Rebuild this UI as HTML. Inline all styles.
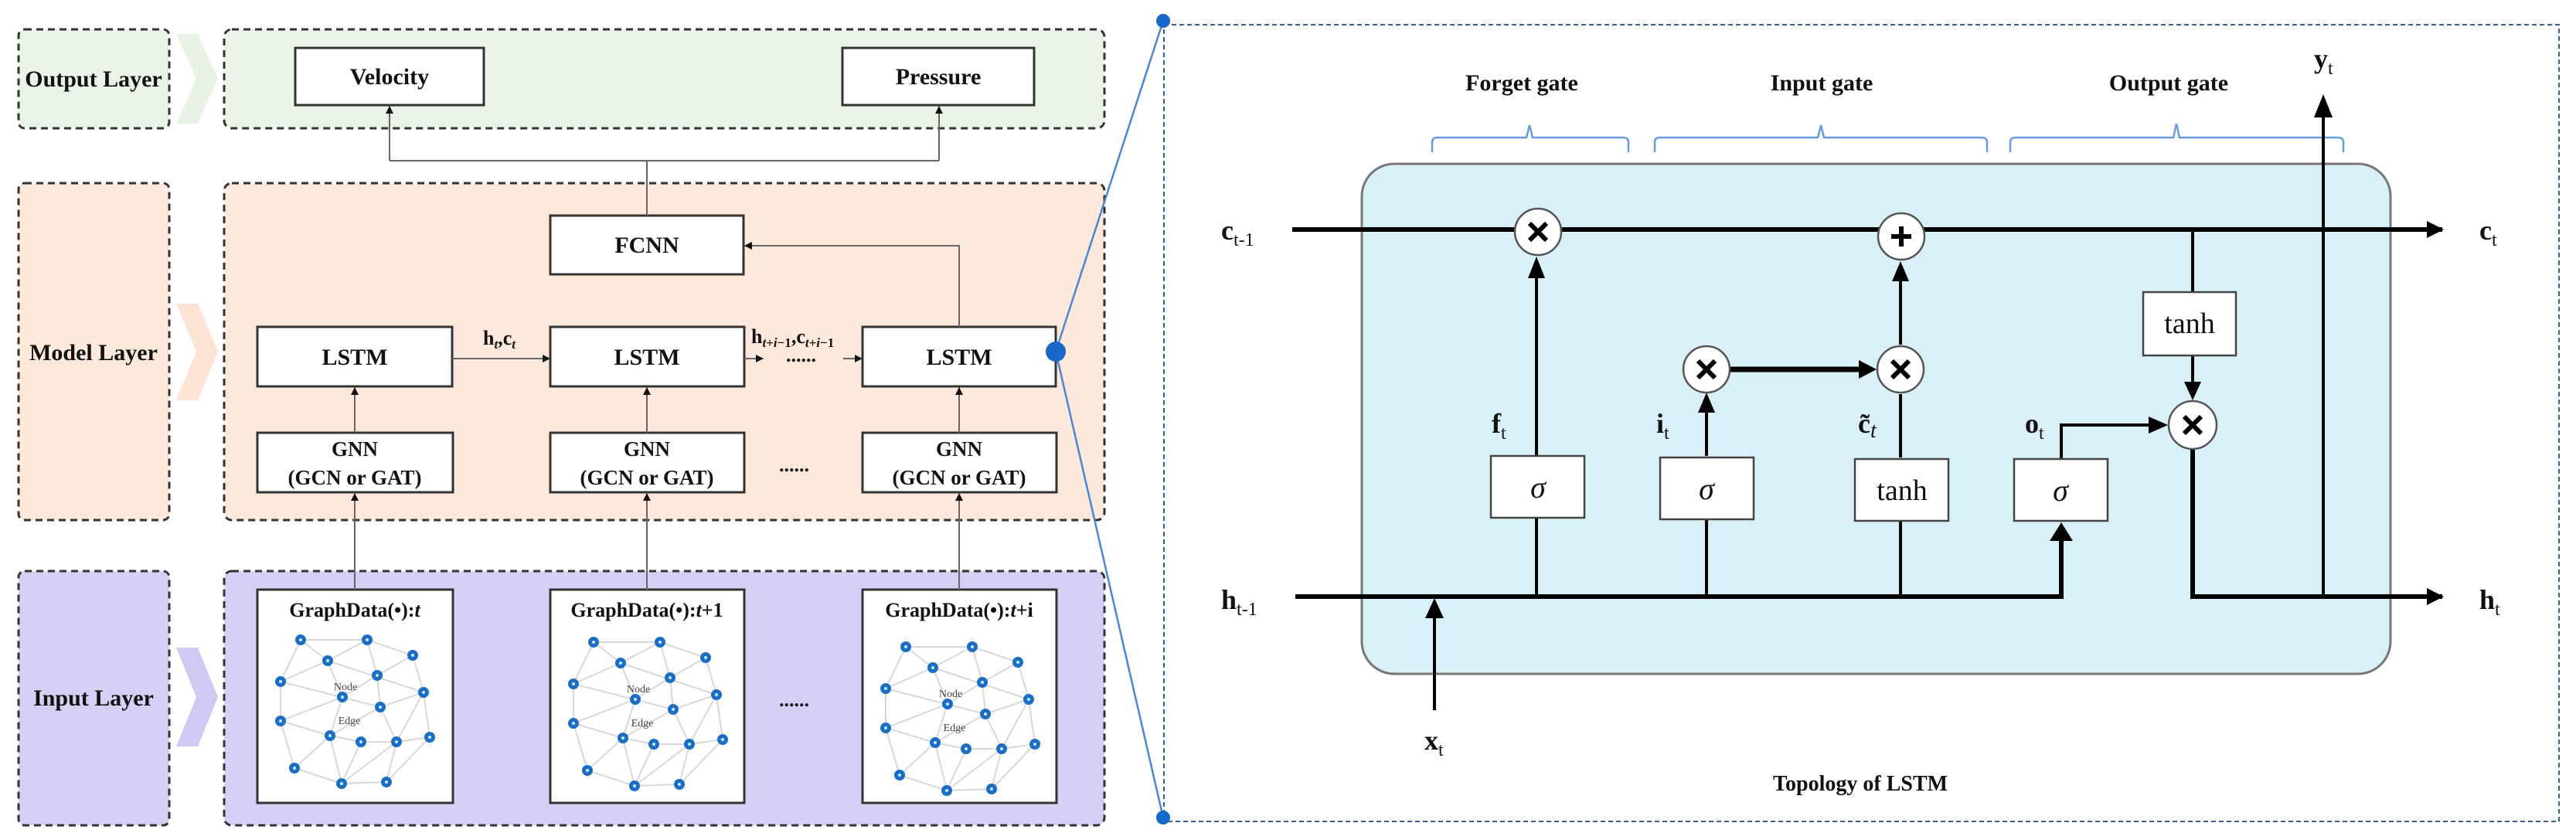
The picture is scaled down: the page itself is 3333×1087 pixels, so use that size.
<!DOCTYPE html>
<html><head><meta charset="utf-8"><style>
html,body{margin:0;padding:0;background:#fff;}
svg{display:block;}
text{font-family:"Liberation Serif",serif;}
</style></head><body>
<svg width="3333" height="1087" viewBox="0 0 3333 1087" xmlns="http://www.w3.org/2000/svg">
<defs>
<marker id="ag" markerWidth="10" markerHeight="10" refX="9" refY="5" orient="auto" markerUnits="userSpaceOnUse"><path d="M0,0 L10,5 L0,10 z" fill="#111"/></marker>
<marker id="ab" markerWidth="22" markerHeight="22" refX="20" refY="11" orient="auto" markerUnits="userSpaceOnUse"><path d="M0,0 L22,11 L0,22 z" fill="#000"/></marker>
<g id="graph">
<g stroke="#d8d8d8" stroke-width="2" fill="none">
<path d="M56,65L142,65 M56,65L91,92 M56,65L30,119 M142,65L91,92 M142,65L155,111 M142,65L201,85 M201,85L155,111 M201,85L215,133 M91,92L30,119 M91,92L215,133 M91,92L110,139 M30,119L159,152 M155,111L159,152 M155,111L110,139 M215,133L159,152 M215,133L180,197 M215,133L223,191 M110,139L30,170 M110,139L94,189 M159,152L94,189 M159,152L180,197 M30,170L94,189 M30,170L48,231 M94,189L134,197 M94,189L48,231 M94,189L109,251 M134,197L180,197 M134,197L109,251 M180,197L223,191 M180,197L109,251 M180,197L167,249 M223,191L167,249 M48,231L109,251 M109,251L167,249 M30,119L30,170"/>
</g>
<g>
<circle cx="56" cy="65" r="7" fill="#1a6fc4"/><circle cx="142" cy="65" r="7" fill="#1a6fc4"/><circle cx="201" cy="85" r="7" fill="#1a6fc4"/><circle cx="91" cy="92" r="7" fill="#1a6fc4"/><circle cx="155" cy="111" r="7" fill="#1a6fc4"/><circle cx="30" cy="119" r="7" fill="#1a6fc4"/><circle cx="215" cy="133" r="7" fill="#1a6fc4"/><circle cx="110" cy="139" r="7" fill="#1a6fc4"/><circle cx="159" cy="152" r="7" fill="#1a6fc4"/><circle cx="30" cy="170" r="7" fill="#1a6fc4"/><circle cx="94" cy="189" r="7" fill="#1a6fc4"/><circle cx="134" cy="197" r="7" fill="#1a6fc4"/><circle cx="180" cy="197" r="7" fill="#1a6fc4"/><circle cx="223" cy="191" r="7" fill="#1a6fc4"/><circle cx="48" cy="231" r="7" fill="#1a6fc4"/><circle cx="109" cy="251" r="7" fill="#1a6fc4"/><circle cx="167" cy="249" r="7" fill="#1a6fc4"/>
</g>
<g fill="#cfe8ff">
<circle cx="56" cy="65" r="2"/><circle cx="142" cy="65" r="2"/><circle cx="201" cy="85" r="2"/><circle cx="91" cy="92" r="2"/><circle cx="155" cy="111" r="2"/><circle cx="30" cy="119" r="2"/><circle cx="215" cy="133" r="2"/><circle cx="110" cy="139" r="2"/><circle cx="159" cy="152" r="2"/><circle cx="30" cy="170" r="2"/><circle cx="94" cy="189" r="2"/><circle cx="134" cy="197" r="2"/><circle cx="180" cy="197" r="2"/><circle cx="223" cy="191" r="2"/><circle cx="48" cy="231" r="2"/><circle cx="109" cy="251" r="2"/><circle cx="167" cy="249" r="2"/>
</g>
</g>
</defs>

<!-- ===== LEFT: layer panels ===== -->
<g stroke="#333" stroke-width="3" stroke-dasharray="9,6">
<rect x="24" y="38" width="195" height="128" rx="8" fill="#eaf4e6"/>
<rect x="290" y="38" width="1139" height="128" rx="10" fill="#eaf4e6"/>
<rect x="24" y="237" width="195" height="436" rx="8" fill="#fde9dc"/>
<rect x="290" y="237" width="1139" height="436" rx="10" fill="#fde9dc"/>
<rect x="24" y="739" width="195" height="329" rx="8" fill="#d4d0f6"/>
<rect x="290" y="739" width="1139" height="329" rx="10" fill="#d4d0f6"/>
</g>
<!-- chevrons -->
<path d="M228,44 L256,44 L282,102 L256,160 L228,160 L254,102 z" fill="#e8f3e4"/>
<path d="M228,393 L256,393 L282,455 L256,518 L228,518 L254,455 z" fill="#fce3d3"/>
<path d="M228,838 L256,838 L282,902 L256,966 L228,966 L254,902 z" fill="#cfcaf4"/>

<g font-weight="bold" font-size="30" text-anchor="middle" fill="#111">
<text x="121" y="112">Output Layer</text>
<text x="121" y="466">Model Layer</text>
<text x="121" y="913">Input Layer</text>
</g>

<!-- boxes -->
<g fill="#fff" stroke="#333" stroke-width="3">
<rect x="382" y="62" width="244" height="74"/>
<rect x="1090" y="62" width="248" height="74"/>
<rect x="712" y="279" width="250" height="76"/>
<rect x="333" y="423" width="252" height="77"/>
<rect x="712" y="423" width="251" height="77"/>
<rect x="1116" y="423" width="250" height="77"/>
<rect x="333" y="560" width="253" height="77"/>
<rect x="712" y="560" width="251" height="77"/>
<rect x="1116" y="560" width="251" height="77"/>
<rect x="333" y="763" width="253" height="276"/>
<rect x="712" y="763" width="251" height="276"/>
<rect x="1116" y="763" width="251" height="276"/>
</g>
<g font-weight="bold" font-size="30" text-anchor="middle" fill="#111">
<text x="504" y="109">Velocity</text>
<text x="1214" y="109">Pressure</text>
<text x="837" y="327">FCNN</text>
<text x="459" y="472">LSTM</text>
<text x="837" y="472">LSTM</text>
<text x="1241" y="472">LSTM</text>
<g font-size="27">
<text x="459" y="590">GNN</text><text x="459" y="627">(GCN or GAT)</text>
<text x="837" y="590">GNN</text><text x="837" y="627">(GCN or GAT)</text>
<text x="1241" y="590">GNN</text><text x="1241" y="627">(GCN or GAT)</text>
</g>
<g font-size="26">
<text x="459" y="798">GraphData(•):<tspan font-style="italic">t</tspan></text>
<text x="837" y="798">GraphData(•):<tspan font-style="italic">t</tspan>+1</text>
<text x="1241" y="798">GraphData(•):<tspan font-style="italic">t</tspan>+i</text>
</g>
</g>
<use href="#graph" x="333" y="763"/>
<use href="#graph" x="712" y="766"/>
<use href="#graph" x="1116" y="772"/>
<g font-size="14" fill="#444" text-anchor="middle">
<text x="447" y="893">Node</text><text x="452" y="937">Edge</text>
<text x="826" y="896">Node</text><text x="831" y="940">Edge</text>
<text x="1230" y="902">Node</text><text x="1235" y="946">Edge</text>
</g>

<!-- left connectors -->
<g stroke="#666" stroke-width="2" fill="none">
<path d="M504,208 L504,138" marker-end="url(#ag)"/>
<path d="M1215,208 L1215,138" marker-end="url(#ag)"/>
<path d="M504,208 L1215,208"/>
<path d="M837,208 L837,279"/>
<path d="M1241,423 L1241,318 L964,318" marker-end="url(#ag)"/>
<path d="M585,464 L711,464" marker-end="url(#ag)"/>
<path d="M963,464 L987,464" marker-end="url(#ag)"/>
<path d="M1091,464 L1115,464" marker-end="url(#ag)"/>
<path d="M459,560 L459,502" marker-end="url(#ag)"/>
<path d="M837,560 L837,502" marker-end="url(#ag)"/>
<path d="M1241,560 L1241,502" marker-end="url(#ag)"/>
<path d="M459,763 L459,639" marker-end="url(#ag)"/>
<path d="M837,763 L837,639" marker-end="url(#ag)"/>
<path d="M1241,763 L1241,639" marker-end="url(#ag)"/>
</g>
<g font-weight="bold" font-size="26" fill="#111">
<text x="625" y="446">h<tspan font-size="17" font-style="italic" dy="5">t</tspan><tspan dy="-5">,c</tspan><tspan font-size="17" font-style="italic" dy="5">t</tspan></text>
<text x="972" y="444">h<tspan font-size="17" dy="5"><tspan font-style="italic">t</tspan>+<tspan font-style="italic">i</tspan>−1</tspan><tspan dy="-5">,c</tspan><tspan font-size="17" dy="5"><tspan font-style="italic">t</tspan>+<tspan font-style="italic">i</tspan>−1</tspan></text>
<text x="1017" y="468">......</text>
<text x="1008" y="610">......</text>
<text x="1008" y="914">......</text>
</g>

<!-- blue zoom lines -->
<g stroke="#4a86d8" stroke-width="2.5">
<line x1="1366" y1="455" x2="1505" y2="27"/>
<line x1="1366" y1="455" x2="1505" y2="1058"/>
</g>
<circle cx="1366" cy="455" r="13" fill="#1768c8"/>
<rect x="1506" y="32" width="1805" height="1031" fill="none" stroke="#3a5f8a" stroke-width="2" stroke-dasharray="6,4"/>
<circle cx="1505" cy="27" r="9" fill="#1768c8"/>
<circle cx="1505" cy="1058" r="9" fill="#1768c8"/>

<!-- ===== RIGHT: LSTM cell ===== -->
<rect x="1762" y="212" width="1331" height="660" rx="42" fill="#daf0f8" stroke="#777" stroke-width="3"/>
<g font-weight="bold" font-size="30" text-anchor="middle" fill="#111">
<text x="1969" y="117">Forget gate</text>
<text x="2357" y="117">Input  gate</text>
<text x="2806" y="117">Output gate</text>
<text x="2407" y="1023" font-size="28">Topology of LSTM</text>
</g>
<g stroke="#6a9be0" stroke-width="2.5" fill="none">
<path d="M1853,197 L1853,184 Q1853,178 1860,178 L1975,178 L1979,162 L1983,178 L2100,178 Q2107,178 2107,184 L2107,197"/>
<path d="M2141,197 L2141,184 Q2141,178 2148,178 L2352,178 L2356,162 L2360,178 L2564,178 Q2571,178 2571,184 L2571,197"/>
<path d="M2601,197 L2601,184 Q2601,178 2608,178 L2812,178 L2816,160 L2820,178 L3025,178 Q3032,178 3032,184 L3032,197"/>
</g>
<!-- main lines -->
<g stroke="#000" stroke-width="6" fill="none">
<path d="M1672,297 L3158,297"/>
<path d="M3158,297 L3160,297" marker-end="url(#ab)"/>
<path d="M1676,772 L2667,772 L2667,700"/>
<path d="M2837,582 L2837,772 L3158,772"/>
<path d="M3158,772 L3160,772" marker-end="url(#ab)"/>
</g>
<path d="M2652,700 L2682,700 L2667,676 z" fill="#000"/>
<path d="M3178,287 L3178,307 L3195,297 z" fill="#000" opacity="0"/>
<g stroke="#000" stroke-width="4" fill="none">
<path d="M1856,919 L1856,800"/>
<path d="M1988,772 L1988,670"/><path d="M1988,590 L1988,360"/>
<path d="M2208,772 L2208,672"/><path d="M2208,590 L2208,534"/>
<path d="M2459,772 L2459,674"/><path d="M2459,592 L2459,510"/><path d="M2459,446 L2459,364"/>
<path d="M2667,594 L2667,550 L2780,550"/>
<path d="M2837,297 L2837,378"/><path d="M2837,460 L2837,496"/>
<path d="M3006,772 L3006,150"/>
</g>
<g stroke="#000" stroke-width="7"><path d="M2239,478 L2405,478"/></g>
<g fill="#000">
<path d="M1844,800 L1868,800 L1856,774 z"/>
<path d="M1977,360 L1999,360 L1988,332 z"/>
<path d="M2197,534 L2219,534 L2208,508 z"/>
<path d="M2448,364 L2470,364 L2459,338 z"/>
<path d="M2405,466 L2405,490 L2428,478 z"/>
<path d="M2780,539 L2780,561 L2805,550 z"/>
<path d="M2826,494 L2848,494 L2837,518 z"/>
<path d="M2994,152 L3018,152 L3006,122 z"/>
</g>
<!-- circles -->
<g fill="#fff" stroke="#555" stroke-width="2.5">
<circle cx="1990" cy="300" r="30"/>
<circle cx="2460" cy="306" r="30"/>
<circle cx="2208" cy="478" r="30"/>
<circle cx="2459" cy="478" r="30"/>
<circle cx="2837" cy="550" r="31"/>
</g>
<g stroke="#000" stroke-width="6" stroke-linecap="butt">
<path d="M1979,289 L2001,311 M2001,289 L1979,311"/>
<path d="M2197,467 L2219,489 M2219,467 L2197,489"/>
<path d="M2448,467 L2470,489 M2470,467 L2448,489"/>
<path d="M2826,539 L2848,561 M2848,539 L2826,561"/>
<path d="M2460,293 L2460,319 M2447,306 L2473,306"/>
</g>
<!-- gate boxes -->
<g fill="#fff" stroke="#444" stroke-width="2.5">
<rect x="1929" y="590" width="121" height="80"/>
<rect x="2148" y="592" width="121" height="80"/>
<rect x="2400" y="594" width="121" height="80"/>
<rect x="2606" y="594" width="121" height="80"/>
<rect x="2773" y="378" width="120" height="82"/>
</g>
<g font-size="40" text-anchor="middle" fill="#111">
<text x="1990" y="644" font-style="italic">σ</text>
<text x="2208" y="646" font-style="italic">σ</text>
<text x="2666" y="648" font-style="italic">σ</text>
<text x="2461" y="647" font-size="38">tanh</text>
<text x="2833" y="431" font-size="38">tanh</text>
</g>
<g font-weight="bold" font-size="36" fill="#111">
<text x="1580" y="310">c<tspan font-size="24" font-weight="normal" dy="8">t-1</tspan></text>
<text x="1580" y="788">h<tspan font-size="24" font-weight="normal" dy="8">t-1</tspan></text>
<text x="3208" y="310">c<tspan font-size="24" font-weight="normal" dy="8">t</tspan></text>
<text x="3208" y="788">h<tspan font-size="24" font-weight="normal" dy="8">t</tspan></text>
<text x="2994" y="88">y<tspan font-size="24" font-weight="normal" dy="8">t</tspan></text>
<text x="1843" y="970">x<tspan font-size="24" font-weight="normal" dy="8">t</tspan></text>
<text x="1930" y="560">f<tspan font-size="24" font-weight="normal" dy="8">t</tspan></text>
<text x="2143" y="560">i<tspan font-size="24" font-weight="normal" dy="8">t</tspan></text>
<text x="2404" y="560">c̃<tspan font-size="28" font-weight="normal" font-style="italic" dy="6">t</tspan></text>
<text x="2620" y="560">o<tspan font-size="24" font-weight="normal" dy="8">t</tspan></text>
</g>
</svg>
</body></html>
